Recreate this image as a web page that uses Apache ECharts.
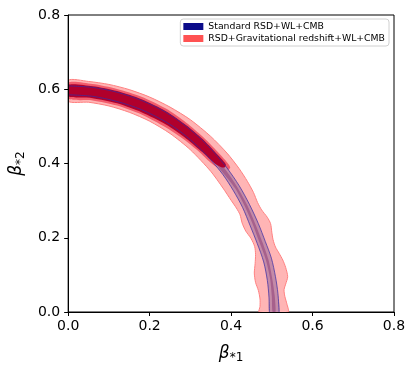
<!DOCTYPE html>
<html>
<head>
<meta charset="utf-8">
<script src="https://cdn.jsdelivr.net/npm/echarts@6/dist/echarts.min.js"></script>
<style>
  html, body { margin: 0; padding: 0; background: #fff; }
  #chart { width: 415px; height: 373px; }
</style>
</head>
<body>
<div id="chart"></div>
<script>
// tick labels
const tickLabels = ["0.0", "0.2", "0.4", "0.6", "0.8"];

// red (RSD+GR+WL+CMB) outer light contour: outer / inner edges, [beta1, beta2]
const redOuterEdge = [[0, 0.624], [0.05, 0.621], [0.10, 0.613], [0.15, 0.599], [0.20, 0.579], [0.25, 0.552], [0.30, 0.518], [0.35, 0.473], [0.39, 0.428], [0.42, 0.386], [0.44, 0.352], [0.455, 0.322], [0.465, 0.295], [0.475, 0.275], [0.489, 0.255], [0.497, 0.238], [0.500, 0.215], [0.503, 0.195], [0.509, 0.175], [0.518, 0.158], [0.527, 0.14], [0.534, 0.12], [0.539, 0.095], [0.534, 0.075], [0.530, 0.06], [0.532, 0.042], [0.537, 0.022], [0.540, 0]];
const redInnerEdge = [[0, 0.568], [0.05, 0.565], [0.10, 0.555], [0.15, 0.538], [0.20, 0.514], [0.25, 0.481], [0.30, 0.437], [0.35, 0.379], [0.38, 0.334], [0.40, 0.301], [0.413, 0.28], [0.422, 0.262], [0.427, 0.24], [0.436, 0.218], [0.449, 0.198], [0.458, 0.176], [0.460, 0.155], [0.459, 0.13], [0.457, 0.105], [0.460, 0.08], [0.467, 0.058], [0.471, 0.035], [0.471, 0.015], [0.469, 0]];

// red mid contour (closed outline)
const redMid = [[0, 0.618], [0.06, 0.614], [0.12, 0.601], [0.18, 0.580], [0.24, 0.548], [0.29, 0.510], [0.33, 0.473], [0.36, 0.44], [0.385, 0.41], [0.398, 0.39], [0.392, 0.381], [0.375, 0.383], [0.35, 0.402], [0.32, 0.433], [0.28, 0.468], [0.24, 0.497], [0.18, 0.532], [0.12, 0.556], [0.06, 0.570], [0, 0.575]];

// red core contour (closed outline)
const redCore = [[0, 0.612], [0.06, 0.608], [0.12, 0.595], [0.18, 0.573], [0.24, 0.541], [0.29, 0.503], [0.33, 0.466], [0.355, 0.438], [0.375, 0.414], [0.387, 0.398], [0.385, 0.39], [0.376, 0.39], [0.36, 0.40], [0.33, 0.43], [0.29, 0.467], [0.24, 0.505], [0.18, 0.538], [0.12, 0.562], [0.06, 0.576], [0, 0.581]];

// blue (standard) contour lines
const blueOuter = [[0, 0.609], [0.06, 0.605], [0.12, 0.592], [0.18, 0.570], [0.24, 0.538], [0.29, 0.500], [0.33, 0.462], [0.36, 0.428], [0.39, 0.388], [0.42, 0.340], [0.445, 0.290], [0.467, 0.238], [0.484, 0.19], [0.499, 0.145], [0.509, 0.095], [0.515, 0.05], [0.518, 0]];
const blueInner = [[0, 0.585], [0.06, 0.581], [0.12, 0.567], [0.18, 0.545], [0.24, 0.512], [0.28, 0.482], [0.32, 0.444], [0.35, 0.410], [0.38, 0.370], [0.405, 0.328], [0.428, 0.282], [0.447, 0.232], [0.464, 0.185], [0.480, 0.135], [0.489, 0.085], [0.493, 0.04], [0.494, 0]];
const blueCoreOuter = [[0, 0.602], [0.12, 0.585], [0.24, 0.531], [0.33, 0.455], [0.385, 0.385], [0.415, 0.337], [0.44, 0.287], [0.46, 0.236], [0.477, 0.188], [0.492, 0.14], [0.501, 0.09], [0.507, 0.045], [0.509, 0]];
const blueCoreInner = [[0, 0.592], [0.12, 0.574], [0.24, 0.519], [0.32, 0.451], [0.378, 0.378], [0.41, 0.333], [0.434, 0.284], [0.454, 0.234], [0.470, 0.187], [0.486, 0.138], [0.496, 0.088], [0.5, 0.042], [0.502, 0]];

const font = "DejaVu Sans";
const nameStd = "Standard RSD+WL+CMB";
const nameGR = "RSD+Gravitational redshift+WL+CMB";

function band(outer, inner) {
  return outer.concat(inner.slice().reverse());
}

function polySeries(name, pts, color, fill, stroke) {
  return {
    type: "custom",
    name: name,
    silent: true,
    clip: true,
    itemStyle: { color: color },
    data: [[0, 0]],
    encode: { x: 0, y: 1 },
    renderItem: function (params, api) {
      return {
        type: "polygon",
        shape: { points: pts.map(function (p) { return api.coord(p); }), smooth: 0.25 },
        style: { fill: fill, stroke: stroke || null, lineWidth: 1 },
      };
    },
  };
}

function lineSeries(pts) {
  return {
    type: "line",
    data: pts,
    smooth: 0.3,
    symbol: "none",
    silent: true,
    lineStyle: { color: "rgba(55,45,165,0.72)", width: 1 },
  };
}

let myChart = echarts.init(document.getElementById("chart"));

myChart.setOption({
  animation: false,
  grid: {
    left: 66,
    right: 21,
    top: 15,
    bottom: 61,
    show: true,
    borderColor: "#000",
    borderWidth: 1,
  },
  legend: {
    orient: "vertical",
    right: 26,
    top: 19,
    padding: [3, 4, 3, 3],
    itemWidth: 20,
    itemHeight: 7,
    itemGap: 3,
    icon: "rect",
    backgroundColor: "#fff",
    borderColor: "#d0d0d0",
    borderWidth: 1,
    borderRadius: 3,
    textStyle: { fontFamily: font, fontSize: 9.3, color: "#000" },
    data: [
      { name: nameStd, itemStyle: { color: "#0b0b8a" } },
      { name: nameGR, itemStyle: { color: "#ff5252" } },
    ],
  },
  xAxis: {
    type: "value",
    z: 10,
    min: 0,
    max: 0.8,
    interval: 0.2,
    name: "{b|β}{s|*1}",
    nameLocation: "middle",
    nameGap: 31,
    nameTextStyle: {
      rich: {
        b: { fontFamily: font, fontSize: 17, fontStyle: "italic", color: "#000" },
        s: { fontFamily: font, fontSize: 12, color: "#000", padding: [9, 0, 0, 0] },
      },
    },
    axisLine: { lineStyle: { color: "#000", width: 1 } },
    axisTick: { show: true, length: 4, lineStyle: { color: "#000" } },
    axisLabel: {
      fontFamily: font,
      fontSize: 14,
      color: "#000",
      margin: 7,
      formatter: function (v) { return tickLabels[Math.round(v / 0.2)]; },
    },
    splitLine: { show: false },
  },
  yAxis: {
    type: "value",
    z: 10,
    min: 0,
    max: 0.8,
    interval: 0.2,
    name: "{b|β}{s|*2}",
    nameLocation: "middle",
    nameGap: 33,
    nameTextStyle: {
      rich: {
        b: { fontFamily: font, fontSize: 17, fontStyle: "italic", color: "#000" },
        s: { fontFamily: font, fontSize: 12, color: "#000", padding: [9, 0, 0, 0] },
      },
    },
    axisLine: { lineStyle: { color: "#000", width: 1 } },
    axisTick: { show: true, length: 4, lineStyle: { color: "#000" } },
    axisLabel: {
      fontFamily: font,
      fontSize: 14,
      color: "#000",
      margin: 8,
      formatter: function (v) { return tickLabels[Math.round(v / 0.2)]; },
    },
    splitLine: { show: false },
  },
  series: [
    polySeries(nameGR, band(redOuterEdge, redInnerEdge), "#ff5252", "#ffb5b5", "#ff8080"),
    polySeries("", redMid, "#f25c6c", "#f25c6c"),
    polySeries(nameStd, band(blueOuter, blueInner), "#0b0b8a", "#c48aa7"),
    polySeries("", band(blueCoreOuter, blueCoreInner), "#a6608c", "#a6608c"),
    polySeries("", redCore, "#b0002c", "#b0002c"),
    lineSeries(blueOuter),
    lineSeries(blueInner),
  ],
});
</script>
</body>
</html>
